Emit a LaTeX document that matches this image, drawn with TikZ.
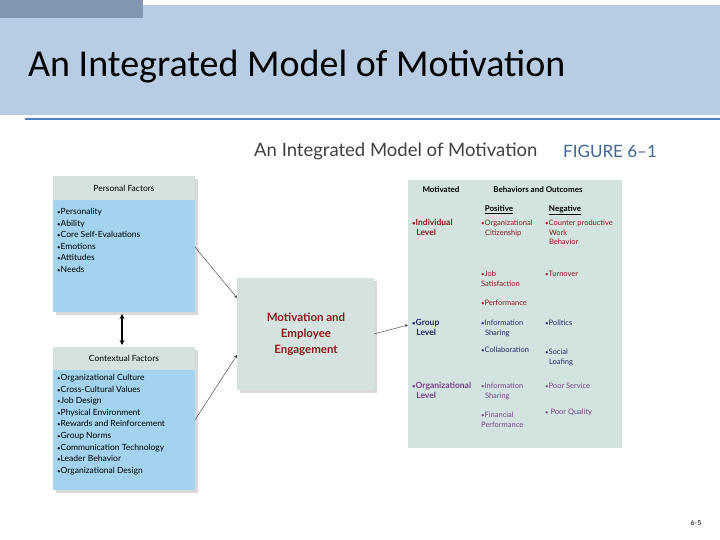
\documentclass[tikz,border=0pt]{standalone}
\usepackage{fontspec}
\setmainfont{Lato}
\newfontfamily\carlitofont{Carlito}
\newcommand{\bu}{{\fontsize{6}{6}\selectfont•}}
\begin{document}
\begin{tikzpicture}[x=1pt,y=-1pt,
 lbl/.style={anchor=north west,align=left,inner sep=0pt,font=\fontsize{7.5}{9.4}\selectfont},
 hdr/.style={font=\fontsize{8}{9}\selectfont\bfseries,inner sep=0pt},
 arr/.style={-stealth,thin,black!80}]
\definecolor{bar}{HTML}{B8CCE4}
\definecolor{strip}{HTML}{8497B0}
\definecolor{rule}{HTML}{4F81BD}
\definecolor{boxblue}{HTML}{A3D3EE}
\definecolor{hdrc}{HTML}{D5E2DF}
\definecolor{panel}{HTML}{D3E3E0}
\definecolor{ired}{HTML}{8B1A1A}
\definecolor{gnavy}{HTML}{1F2A6B}
\definecolor{opurp}{HTML}{7B3F8C}
\useasboundingbox (0,0) rectangle (720,540);
\fill[white] (0,0) rectangle (720,540);
\fill[bar] (0,5) rectangle (720,115);
\fill[strip] (0,0) rectangle (143,18);
\draw[rule,line width=1.2pt] (25,119) -- (720,119);
\node[anchor=west,inner sep=0pt,font=\carlitofont\fontsize{38}{40}\selectfont] (title) at (28,67) {An Integrated Model of Motivation};
\node[anchor=west,inner sep=0pt,font=\fontsize{18.5}{20}\selectfont,text=black!75] (ftitle) at (254,151) {An Integrated Model of Motivation};
\node[anchor=west,inner sep=0pt,font=\fontsize{17}{18}\selectfont,text=rule!80!black] (fig) at (563,151) {FIGURE 6--1};
% personal
\fill[black!15] (56,179) rectangle (198,315);
\fill[boxblue] (53,176) rectangle (195,312);
\fill[hdrc] (53,176) rectangle (195,200);
\node[font=\fontsize{8.5}{9}\selectfont,inner sep=0pt] (ph) at (124,188) {Personal Factors};
\node[lbl,font=\fontsize{8.5}{11.6}\selectfont] (pl) at (57,208) {\bu Personality\\\bu Ability\\\bu Core Self-Evaluations\\\bu Emotions\\\bu Attitudes\\\bu Needs};
\coordinate (pbot) at (122,314);
% contextual
\fill[black!15] (56,350) rectangle (198,493);
\fill[boxblue] (53,347) rectangle (195,490);
\fill[hdrc] (53,347) rectangle (195,370);
\node[font=\fontsize{8.5}{9}\selectfont,inner sep=0pt] (ch) at (124,358) {Contextual Factors};
\node[lbl,font=\fontsize{8.5}{11.6}\selectfont] (cl) at (57,374) {\bu Organizational Culture\\\bu Cross-Cultural Values\\\bu Job Design\\\bu Physical Environment\\\bu Rewards and Reinforcement\\\bu Group Norms\\\bu Communication Technology\\\bu Leader Behavior\\\bu Organizational Design};
\coordinate (ctop) at (122,345);
\draw[stealth-stealth,line width=1.2pt] (pbot) -- (ctop);
% center
\fill[black!15] (240,281) rectangle (377,393);
\fill[hdrc] (237,278) rectangle (374,390);
\node[align=center,text=ired,font=\fontsize{11.5}{16}\selectfont\bfseries,inner sep=0pt] (mot) at (306,334) {Motivation and\\Employee\\Engagement};
\coordinate (cin1) at (237,298);
\coordinate (cin2) at (237,355);
\coordinate (cout) at (374,334);
\draw[arr] (195,247) -- (cin1);
\draw[arr] (195,420) -- (cin2);
% right panel
\fill[panel] (408,180) rectangle (622,448);
\coordinate (pin) at (408,325);
\draw[arr] (cout) -- (pin);
\node[hdr] (m) at (441,190) {Motivated};
\node[hdr] (bo) at (538,190) {Behaviors and Outcomes};
\node[hdr] (pos) at (499,210) {\underline{Positive}};
\node[hdr] (neg) at (565,210) {\underline{Negative}};
\node[lbl,text=ired,font=\fontsize{8.5}{10}\selectfont\bfseries] (il) at (412,219) {\bu Individual\\\ \ Level};
\node[lbl,text=ired] (a1) at (481,220) {\bu Organizational\\\ \ Citizenship};
\node[lbl,text=ired] (a2) at (545,220) {\bu Counter productive\\\ \ Work\\\ \ Behavior};
\node[lbl,text=ired] (a3) at (481,271) {\bu Job\\Satisfaction};
\node[lbl,text=ired] (a4) at (545,271) {\bu Turnover};
\node[lbl,text=ired] (a5) at (481,300) {\bu Performance};
\node[lbl,text=gnavy,font=\fontsize{8.5}{10}\selectfont\bfseries] (gl) at (412,319) {\bu Group\\\ \ Level};
\node[lbl,text=gnavy] (b1) at (481,320) {\bu Information\\\ \ Sharing};
\node[lbl,text=gnavy] (b2) at (545,320) {\bu Politics};
\node[lbl,text=gnavy] (b3) at (481,347) {\bu Collaboration};
\node[lbl,text=gnavy] (b4) at (545,349) {\bu Social\\\ \ Loafing};
\node[lbl,text=opurp,font=\fontsize{8.5}{10}\selectfont\bfseries] (ol) at (412,382) {\bu Organizational\\\ \ Level};
\node[lbl,text=opurp] (c1) at (481,383) {\bu Information\\\ \ Sharing};
\node[lbl,text=opurp] (c2) at (545,383) {\bu Poor Service};
\node[lbl,text=opurp] (c3) at (481,412) {\bu Financial\\Performance};
\node[lbl,text=opurp] (c4) at (545,409) {\bu\ Poor Quality};
\node[font=\fontsize{7}{8}\selectfont,inner sep=0pt] (pg) at (696,523) {6-5};
\end{tikzpicture}
\end{document}
